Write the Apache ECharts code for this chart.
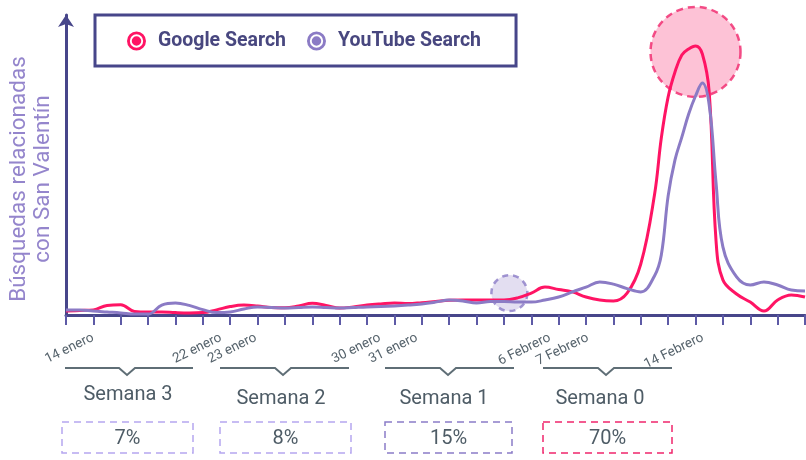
<!DOCTYPE html>
<html>
<head>
<meta charset="utf-8">
<script src="https://cdn.jsdelivr.net/npm/echarts@6/dist/echarts.min.js"></script>
<style>
  html, body { margin: 0; padding: 0; background: #fff; }
  #chart { width: 806px; height: 460px; }
</style>
</head>
<body>
<div id="chart"></div>
<script>
// posiciones en unidades de marca del eje x (0..27)
var xs = [0, 0.5, 1, 1.5, 2, 2.5, 3, 3.5, 4, 4.5, 5, 5.5, 6, 6.5, 7, 7.5, 8, 8.5, 9, 9.5,
  10, 10.5, 11, 11.5, 12, 12.5, 13, 13.5, 14, 14.5, 15, 15.5, 16, 16.5, 17, 17.5, 18, 18.5,
  19, 19.5, 20, 20.5, 21, 21.5, 21.75, 22, 22.25, 22.5, 22.75, 23, 23.25, 23.5, 23.75, 24,
  24.5, 25, 25.5, 26, 26.5, 27];

var googleVals = [1.3, 1.5, 1.7, 3.2, 3.4, 1.2, 1.0, 1.0, 0.8, 0.7, 0.8, 1.7, 2.8, 3.3, 3.0, 2.5,
  2.4, 3.0, 3.9, 3.2, 2.3, 2.7, 3.3, 3.7, 4.0, 3.8, 4.1, 4.5, 4.9, 5.0, 5.0, 5.0, 5.0, 5.7,
  7.3, 9.3, 8.5, 7.7, 6.0, 5.0, 4.7, 7.3, 17, 40, 59, 72.7, 81, 86.7, 88.7, 89.7, 87, 74.3,
  24.7, 11.7, 7.0, 4.3, 1.3, 5.0, 6.7, 6.0];

var youtubeVals = [1.7, 1.7, 1.3, 1.0, 0.7, 0.3, 0.3, 3.3, 4.0, 3.2, 1.8, 0.8, 1.0, 2.0, 2.7, 2.5,
  2.3, 2.5, 2.7, 2.5, 2.3, 2.5, 2.7, 2.8, 3.0, 3.3, 3.7, 4.3, 5.0, 4.7, 4.0, 4.5, 4.5, 4.3,
  4.3, 5.0, 6.0, 7.7, 9.3, 11, 10.3, 8.8, 7.7, 13, 20, 39.7, 51.7, 59.3, 67, 73, 77.3, 70,
  44, 22.7, 12.7, 10, 11, 10, 8.3, 8.0];

var dateLabels = ['14 enero', '22 enero', '23 enero', '30 enero', '31 enero', '6 Febrero', '7 Febrero', '14 Febrero'];
var dateLabelPos = [0.99, 5.66, 6.94, 11.47, 12.82, 17.68, 19.07, 23.27];

var weekNames = ['Semana 3', 'Semana 2', 'Semana 1', 'Semana 0'];
var weekShares = ['7%', '8%', '15%', '70%'];

// circulos resaltados
var googlePeak = [[23, 87.7]];
var youtubeSpot = [[16.2, 7.3]];

var pinkColor = '#ff1464';
var purpleColor = '#8b7bc5';
var navy = '#47468a';
var grayText = '#4e5c66';

function pairs(x, y) {
  var out = [];
  for (var i = 0; i < x.length; i++) out.push([x[i], y[i]]);
  return out;
}

var ringIcon = 'path://M0,-10A10,10,0,1,1,0,10A10,10,0,1,1,0,-10ZM0,-7A7,7,0,1,0,0,7A7,7,0,1,0,0,-7ZM0,-5A5,5,0,1,1,0,5A5,5,0,1,1,0,-5Z';

// layout de las semanas (px)
var weekBoxes = [[62, 193], [220, 351], [385, 512], [543, 672]];
var braces = [[65, 193, 127], [220, 349, 283], [385, 514, 448], [543, 672, 606]];
var weekLabelX = [128, 281, 444, 600];
var weekLabelY = [395, 399, 399, 399];
var boxColors = ['#b5a6ef', '#b5a6ef', '#8b7cc7', '#f0266c'];

var graphics = [{
  type: 'text',
  x: 31, y: 179,
  rotation: Math.PI / 2,
  style: {
    text: 'Búsquedas relacionadas\ncon San Valentín',
    fontSize: 22.5, fontFamily: 'Roboto', fill: '#9485cc',
    align: 'center', verticalAlign: 'middle', lineHeight: 24
  }
}];

for (var i = 0; i < 4; i++) {
  var b = braces[i];
  graphics.push({
    type: 'polyline',
    shape: { points: [[b[0], 368], [b[2] - 8, 368], [b[2], 375], [b[2] + 8, 368], [b[1], 368]] },
    style: { stroke: '#5f6e76', lineWidth: 2, fill: null }
  });
  graphics.push({
    type: 'text', x: weekLabelX[i], y: weekLabelY[i],
    style: { text: weekNames[i], fontSize: 20, fontFamily: 'Roboto', fill: grayText, align: 'center', verticalAlign: 'middle' }
  });
  var bx = weekBoxes[i];
  graphics.push({
    type: 'rect',
    shape: { x: bx[0], y: 422, width: bx[1] - bx[0], height: 31 },
    style: { fill: null, stroke: boxColors[i], lineWidth: 1.5, lineDash: [7, 5] }
  });
  graphics.push({
    type: 'text', x: (bx[0] + bx[1]) / 2, y: 439,
    style: { text: weekShares[i], fontSize: 20, fontFamily: 'Roboto', fill: grayText, align: 'center', verticalAlign: 'middle' }
  });
}

var myChart = echarts.init(document.getElementById('chart'));
var option = {
  animation: false,
  textStyle: { fontFamily: 'Roboto' },
  grid: { left: 66, right: 1, top: 15, bottom: 145 },
  legend: {
    data: ['Google Search', 'YouTube Search'],
    left: 95, top: 15,
    padding: [16, 35, 15, 32],
    itemGap: 21,
    itemWidth: 19, itemHeight: 19,
    icon: ringIcon,
    borderColor: navy, borderWidth: 3, backgroundColor: '#fff',
    textStyle: { fontSize: 19.5, fontWeight: 'bold', color: '#48477f', padding: [0, 0, 0, 7] }
  },
  xAxis: [{
    type: 'value', min: 0, max: 27, interval: 1,
    axisLine: { lineStyle: { color: navy, width: 3 } },
    axisTick: { show: true, length: 10, lineStyle: { color: '#5d5aa6', width: 2 } },
    axisLabel: { show: false },
    splitLine: { show: false }
  }, {
    type: 'value', min: 0, max: 27, position: 'bottom',
    axisLine: { show: false }, axisTick: { show: false }, splitLine: { show: false },
    axisLabel: {
      customValues: dateLabelPos,
      rotate: 26, margin: 22, fontSize: 13.5, color: '#56636c',
      formatter: function (v) { return dateLabels[dateLabelPos.indexOf(v)]; }
    }
  }],
  yAxis: {
    type: 'value', min: 0, max: 100,
    axisLine: { show: true, symbol: ['none', 'arrow'], symbolSize: [12, 12], lineStyle: { color: navy, width: 3 } },
    axisTick: { show: false }, axisLabel: { show: false }, splitLine: { show: false }
  },
  graphic: graphics,
  series: [{
    name: 'peakGoogle', type: 'scatter', z: 1, silent: true,
    data: googlePeak, symbolSize: 90,
    itemStyle: { color: '#fdb3cc', borderColor: '#f0266c', borderWidth: 2.5, borderType: [7, 5] }
  }, {
    name: 'spotYoutube', type: 'scatter', z: 1, silent: true,
    data: youtubeSpot, symbolSize: 36,
    itemStyle: { color: '#dcd6ed', borderColor: '#8b7cc7', borderWidth: 2.5, borderType: [6, 5] }
  }, {
    name: 'Google Search', type: 'line', z: 3,
    data: pairs(xs, googleVals), smooth: 0.4, showSymbol: false,
    lineStyle: { color: pinkColor, width: 3 }, itemStyle: { color: pinkColor }
  }, {
    name: 'YouTube Search', type: 'line', z: 3,
    data: pairs(xs, youtubeVals), smooth: 0.4, showSymbol: false,
    lineStyle: { color: purpleColor, width: 3 }, itemStyle: { color: purpleColor }
  }]
};
myChart.setOption(option);
</script>
</body>
</html>
